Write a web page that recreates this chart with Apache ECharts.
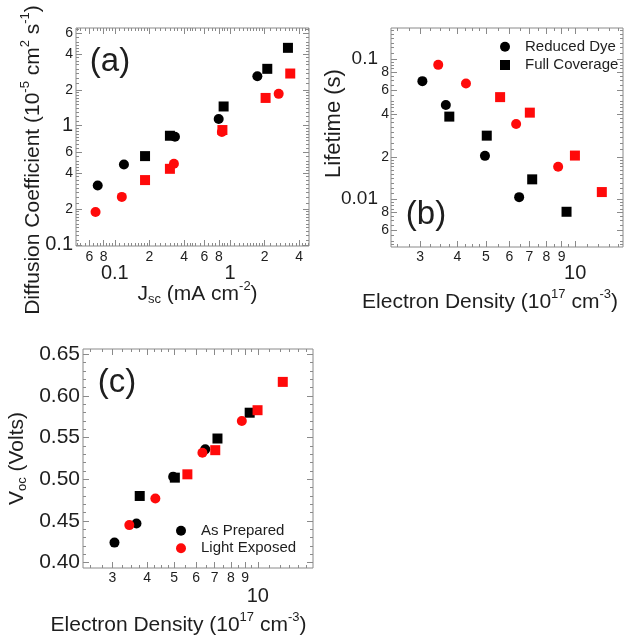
<!DOCTYPE html>
<html>
<head>
<meta charset="utf-8">
<title>Diffusion coefficient, lifetime and Voc</title>
<script src="https://cdn.jsdelivr.net/npm/echarts@6/dist/echarts.min.js"></script>
<style>
  html, body { margin: 0; padding: 0; background: #fff; }
  #chart { width: 628px; height: 637px; }
</style>
</head>
<body>
<div id="chart"></div>
<script>
// ---- Panel (a): diffusion coefficient (1e-5 cm^2/s) vs Jsc (mA/cm^2) ----
const jscReducedPrepared  = [0.071, 0.120, 0.333, 0.798, 1.73];
const diffReducedPrepared = [0.315, 0.473, 0.808, 1.14, 2.60];
const jscFullPrepared     = [0.183, 0.301, 0.881, 2.11, 3.19];
const diffFullPrepared    = [0.556, 0.824, 1.45, 3.00, 4.50];
const jscReducedExposed   = [0.068, 0.115, 0.326, 0.851, 2.65];
const diffReducedExposed  = [0.189, 0.253, 0.480, 0.885, 1.85];
const jscFullExposed      = [0.183, 0.301, 0.860, 2.04, 3.34];
const diffFullExposed     = [0.350, 0.435, 0.920, 1.71, 2.74];

// ---- Panels (b) and (c): electron density (1e17 cm^-3) ----
const densReducedPrepared = [3.05, 3.66, 4.96, 6.47];
const densFullPrepared    = [3.76, 5.03, 7.16, 9.35];
const densReducedExposed  = [3.45, 4.28, 6.32, 8.76];
const densFullExposed     = [5.58, 7.03, 9.98, 12.3];

// Panel (b): electron lifetime (s)
const tauReducedPrepared = [0.0693, 0.0469, 0.0203, 0.0103];
const tauFullPrepared    = [0.0387, 0.0283, 0.0138, 0.0081];
const tauReducedExposed  = [0.0906, 0.0666, 0.0343, 0.0170];
const tauFullExposed     = [0.0533, 0.0413, 0.0204, 0.0112];

// Panel (c): open-circuit voltage (V)
const vocReducedPrepared = [0.424, 0.447, 0.503, 0.536];
const vocFullPrepared    = [0.480, 0.502, 0.549, 0.580];
const vocReducedExposed  = [0.445, 0.477, 0.532, 0.570];
const vocFullExposed     = [0.506, 0.535, 0.583, 0.617];

// ---- Axis ranges and tick labels ----
const jscRange      = [0.046, 4.86];
const diffRange     = [0.098, 6.6];
const densRangeB    = [2.39, 14.5];
const tauRange      = [0.00454, 0.166];
const densRangeC    = [2.35, 15.8];
const vocRange      = [0.3935, 0.6565];

const jscSmallLabels  = [0.06, 0.08, 0.2, 0.4, 0.6, 0.8, 2, 4];
const jscBigLabels    = [0.1, 1];
const diffSmallLabels = [0.2, 0.4, 0.6, 2, 4, 6];
const diffBigLabels   = [0.1, 1];
const densSmallLabels = [3, 4, 5, 6, 7, 8, 9];
const densBigLabels   = [10];
const tauSmallLabels  = [0.006, 0.008, 0.02, 0.04, 0.06, 0.08];
const tauBigLabels    = [0.01, 0.1];
const vocLabels       = [0.40, 0.45, 0.50, 0.55, 0.60, 0.65];

const FONT = '"Liberation Sans", Arial, Helvetica, sans-serif';
const FRAME = '#8a8a8a';
const TEXT = '#1e1e1e';
const BLACK = '#000000';
const RED = '#ff0a0a';

// minor tick positions on a log axis: finer steps in the lower part of each decade
function logMinorTicks(range) {
  const out = [];
  const e0 = Math.floor(Math.log10(range[0])), e1 = Math.ceil(Math.log10(range[1]));
  for (let e = e0; e <= e1; e++) {
    const p = Math.pow(10, e);
    let m = 1;
    while (m < 9.999) {
      const v = +(m * p).toPrecision(6);
      if (v >= range[0] && v <= range[1]) out.push(v);
      m = +(m + (m < 1.999 ? 0.1 : m < 4.999 ? 0.25 : 0.5)).toFixed(3);
    }
  }
  return out;
}
function linearTicks(range, step) {
  const out = [];
  for (let k = Math.ceil(range[0] / step - 1e-9); k * step <= range[1] + 1e-9; k++) out.push(+(k * step).toFixed(4));
  return out;
}
const mantissa = v => String(Math.round(v / Math.pow(10, Math.floor(Math.log10(v) + 1e-9))));
const decade = v => String(+(+v).toPrecision(1));

function nameStyle(size, padding) {
  return {
    color: TEXT, fontFamily: FONT, fontSize: size, lineHeight: 26, padding: padding,
    rich: {
      t:   { color: TEXT, fontFamily: FONT, fontSize: size },
      sup: { color: TEXT, fontFamily: FONT, fontSize: 13, padding: [0, 0, 16, 0] },
      sub: { color: TEXT, fontFamily: FONT, fontSize: 13, padding: [10, 0, 0, 0] }
    }
  };
}

// four overlaid axes per side pair: minor ticks + small labels, major ticks + large labels + name,
// and the mirrored minor/major ticks on the opposite frame edge
function axisGroup(c) {
  const [near, far] = c.dim === 'x' ? ['bottom', 'top'] : ['left', 'right'];
  const base = position => ({
    gridIndex: c.grid, type: c.type, logBase: 10, min: c.range[0], max: c.range[1], position: position,
    axisLine: { show: false }, splitLine: { show: false }, splitArea: { show: false },
    minorTick: { show: false }, axisPointer: { show: false }, silent: true
  });
  const ticks = (vals, len) => ({ show: true, inside: true, length: len, customValues: vals,
    lineStyle: { color: FRAME, width: 1 } });
  const labels = (vals, fmt, size, margin) => (vals && vals.length)
    ? { show: true, customValues: vals, formatter: fmt, fontSize: size, margin: margin,
        color: TEXT, fontFamily: FONT }
    : { show: false };
  const major = (c.smallLabels || []).concat(c.bigLabels || []);
  return [
    Object.assign(base(near), { axisTick: ticks(c.minorTicks, 3),
      axisLabel: labels(c.smallLabels, c.smallFmt, c.smallSize, c.smallMargin) }),
    Object.assign(base(near), { axisTick: ticks(major, 6),
      axisLabel: labels(c.bigLabels, c.bigFmt, c.bigSize, c.bigMargin),
      name: c.name, nameLocation: 'middle', nameGap: c.nameGap, nameRotate: c.dim === 'y' ? 90 : 0,
      nameMoveOverlap: false, nameTextStyle: c.nameStyle }),
    Object.assign(base(far), { axisTick: ticks(c.minorTicks, 3), axisLabel: { show: false } }),
    Object.assign(base(far), { axisTick: ticks(major, 6), axisLabel: { show: false } })
  ];
}

const xAxes = [].concat(
  axisGroup({ grid: 0, dim: 'x', type: 'log', range: jscRange, minorTicks: logMinorTicks(jscRange),
    smallLabels: jscSmallLabels, bigLabels: jscBigLabels, smallFmt: mantissa, bigFmt: decade,
    smallSize: 14, bigSize: 20, smallMargin: 4, bigMargin: 17,
    name: '{t|J}{sub|sc}{t| (mA cm}{sup|-2}{t|)}', nameGap: 35,
    nameStyle: nameStyle(21, [0, 0, 0, 10]) }),
  axisGroup({ grid: 1, dim: 'x', type: 'log', range: densRangeB, minorTicks: logMinorTicks(densRangeB),
    smallLabels: densSmallLabels, bigLabels: densBigLabels, smallFmt: mantissa, bigFmt: decade,
    smallSize: 14, bigSize: 20, smallMargin: 3, bigMargin: 16,
    name: '{t|Electron Density (10}{sup|17}{t| cm}{sup|-3}{t|)}', nameGap: 42,
    nameStyle: nameStyle(21, [0, 34, 0, 0]) }),
  axisGroup({ grid: 2, dim: 'x', type: 'log', range: densRangeC, minorTicks: logMinorTicks(densRangeC),
    smallLabels: densSmallLabels, bigLabels: densBigLabels, smallFmt: mantissa, bigFmt: decade,
    smallSize: 14, bigSize: 20, smallMargin: 3, bigMargin: 18,
    name: '{t|Electron Density (10}{sup|17}{t| cm}{sup|-3}{t|)}', nameGap: 44,
    nameStyle: nameStyle(21, [0, 39, 0, 0]) })
);

const yAxes = [].concat(
  axisGroup({ grid: 0, dim: 'y', type: 'log', range: diffRange, minorTicks: logMinorTicks(diffRange),
    smallLabels: diffSmallLabels, bigLabels: diffBigLabels, smallFmt: mantissa, bigFmt: decade,
    smallSize: 14, bigSize: 20, smallMargin: 3, bigMargin: 3,
    name: '{t|Diffusion Coefficient (10}{sup|-5}{t| cm}{sup|2}{t| s}{sup|-1}{t|)}', nameGap: 30,
    nameStyle: nameStyle(21, [0, 46, 0, 0]) }),
  axisGroup({ grid: 1, dim: 'y', type: 'log', range: tauRange, minorTicks: logMinorTicks(tauRange),
    smallLabels: tauSmallLabels, bigLabels: tauBigLabels, smallFmt: mantissa, bigFmt: decade,
    smallSize: 14, bigSize: 19, smallMargin: 2, bigMargin: 13,
    name: 'Lifetime (s)', nameGap: 44, nameStyle: nameStyle(22, [0, 0, 0, 28]) }),
  axisGroup({ grid: 2, dim: 'y', type: 'value', range: vocRange, minorTicks: linearTicks(vocRange, 0.01),
    smallLabels: [], bigLabels: vocLabels, bigFmt: v => (+v).toFixed(2),
    bigSize: 21, bigMargin: 3,
    name: '{t|V}{sub|oc}{t| (Volts)}', nameGap: 53, nameStyle: nameStyle(21) })
);

function scatter(name, xs, ys, grid, symbol, color) {
  return {
    type: 'scatter', name: name, xAxisIndex: grid * 4, yAxisIndex: grid * 4,
    symbol: symbol, symbolSize: 10,
    itemStyle: { color: color, opacity: 1 },
    emphasis: { disabled: true }, silent: true, z: 5,
    data: xs.map((x, i) => [x, ys[i]])
  };
}

const series = [
  // (a)
  scatter('D, reduced dye, as prepared', jscReducedPrepared, diffReducedPrepared, 0, 'circle', BLACK),
  scatter('D, full coverage, as prepared', jscFullPrepared, diffFullPrepared, 0, 'rect', BLACK),
  scatter('D, reduced dye, light exposed', jscReducedExposed, diffReducedExposed, 0, 'circle', RED),
  scatter('D, full coverage, light exposed', jscFullExposed, diffFullExposed, 0, 'rect', RED),
  // (b)
  scatter('Reduced Dye', densReducedPrepared, tauReducedPrepared, 1, 'circle', BLACK),
  scatter('Full Coverage', densFullPrepared, tauFullPrepared, 1, 'rect', BLACK),
  scatter('Lifetime, reduced dye, light exposed', densReducedExposed, tauReducedExposed, 1, 'circle', RED),
  scatter('Lifetime, full coverage, light exposed', densFullExposed, tauFullExposed, 1, 'rect', RED),
  // (c)
  scatter('As Prepared', densReducedPrepared, vocReducedPrepared, 2, 'circle', BLACK),
  scatter('Voc, full coverage, as prepared', densFullPrepared, vocFullPrepared, 2, 'rect', BLACK),
  scatter('Light Exposed', densReducedExposed, vocReducedExposed, 2, 'circle', RED),
  scatter('Voc, full coverage, light exposed', densFullExposed, vocFullExposed, 2, 'rect', RED)
];

const gridBox = (left, top, width, height) => ({
  left: left, top: top, width: width, height: height, show: true,
  borderColor: FRAME, borderWidth: 1, backgroundColor: 'transparent',
  containLabel: false, outerBoundsMode: 'none'
});

const legendBase = {
  orient: 'vertical', padding: 0, itemWidth: 10, itemHeight: 10, selectedMode: false,
  symbolKeepAspect: true,
  textStyle: { fontSize: 15, lineHeight: 16, color: TEXT, fontFamily: FONT, padding: [0, 0, 0, 10] }
};

const panelTag = (text, x, y) => ({
  type: 'text', x: x, y: y, silent: true,
  style: { text: text, fontSize: 33, fontFamily: FONT, fill: TEXT, align: 'center', verticalAlign: 'middle' }
});

const chart = echarts.init(document.getElementById('chart'), null, { renderer: 'canvas' });
chart.setOption({
  animation: false,
  backgroundColor: '#ffffff',
  grid: [gridBox(76, 28, 233, 218), gridBox(391, 28, 232, 219), gridBox(83, 349, 230, 219)],
  xAxis: xAxes,
  yAxis: yAxes,
  legend: [
    Object.assign({}, legendBase, { data: ['Reduced Dye', 'Full Coverage'], left: 500, top: 38.7, itemGap: 2.3 }),
    Object.assign({}, legendBase, { data: ['As Prepared', 'Light Exposed'], left: 176, top: 522.7, itemGap: 1.6 })
  ],
  graphic: [panelTag('(a)', 110, 62), panelTag('(b)', 426, 215), panelTag('(c)', 117, 383)],
  series: series
});
</script>
</body>
</html>
